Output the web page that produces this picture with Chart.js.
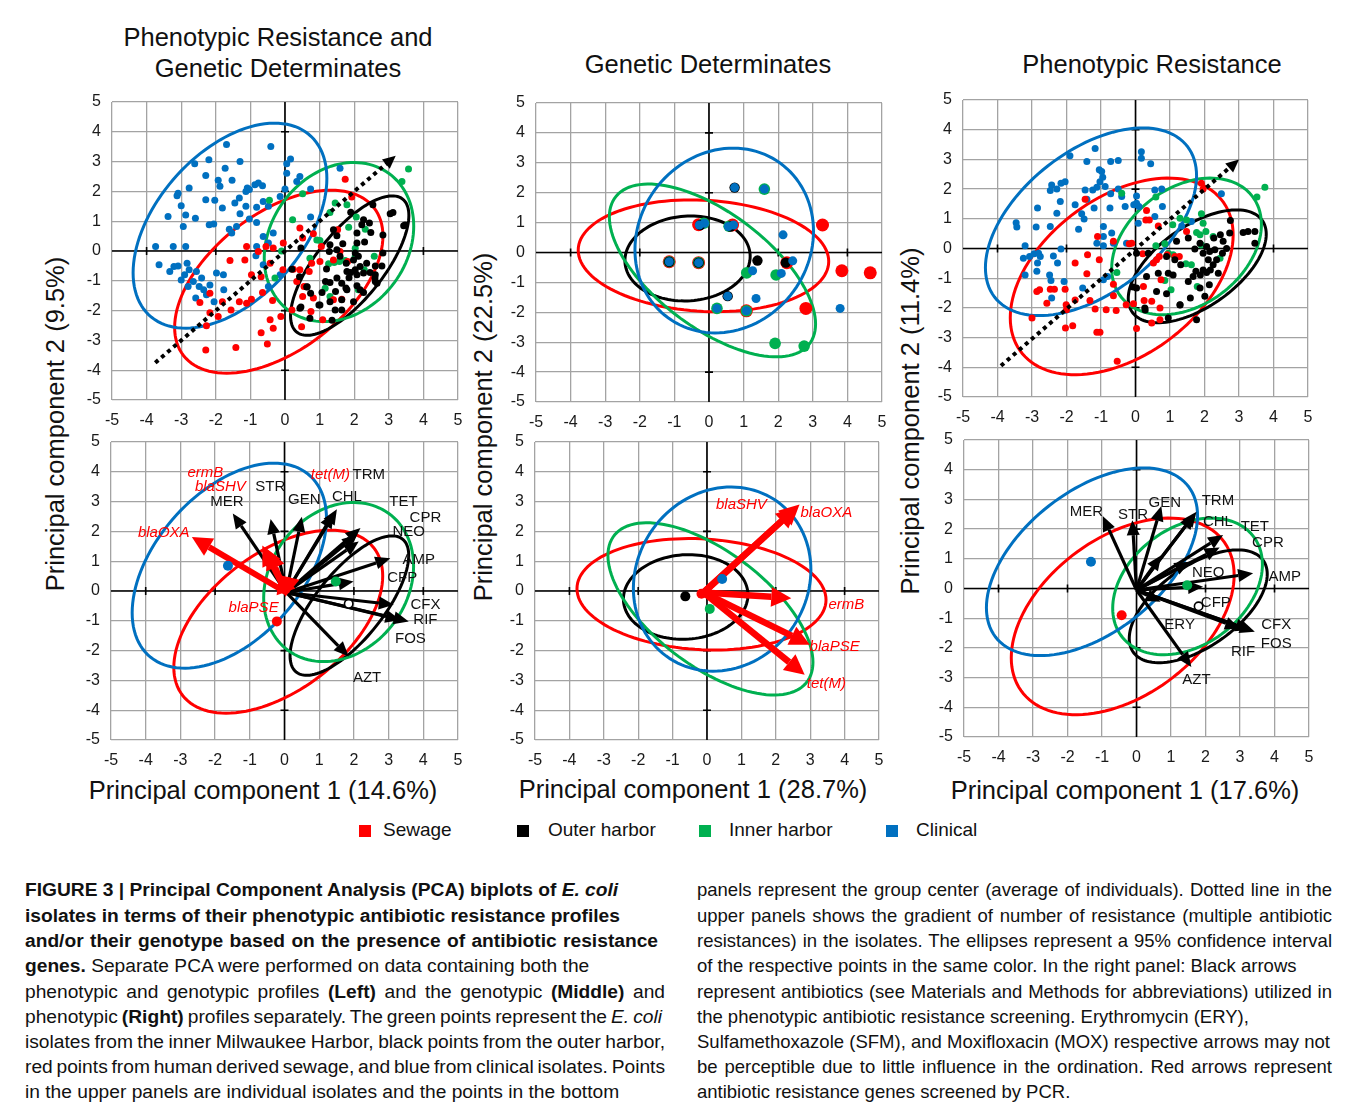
<!DOCTYPE html>
<html>
<head>
<meta charset="utf-8">
<script src="https://cdn.jsdelivr.net/npm/chart.js@4.4.1/dist/chart.umd.min.js"></script>
<style>
body { margin: 0; background: #fff; font-family: "Liberation Sans", Arial, sans-serif; }
#fig { position: relative; width: 1358px; height: 1109px; overflow: hidden; }
canvas { position: absolute; }
.t { position: absolute; color: #111; white-space: nowrap; }
.ttl { font-size: 25.5px; text-align: center; width: 400px; line-height: 31px; }
.ax { font-size: 25.5px; }
.rot { transform: translate(-50%, -50%) rotate(-90deg); }
.hc { transform: translate(-50%, -50%); }
.lg { font-size: 19px; top: 819px; }
.sq { position: absolute; width: 12px; height: 12px; top: 825px; }
.cl { position: absolute; font-size: 19.2px; line-height: 25px; white-space: nowrap; color: #111; }
.cr { font-size: 18.5px; }
.j { text-align: justify; text-align-last: justify; word-spacing: -3px; }
</style>
</head>
<body>
<div id="fig">
  <div class="t ttl" style="left:78px;top:22px">Phenotypic Resistance and<br>Genetic Determinates</div>
  <div class="t ttl" style="left:508px;top:49px">Genetic Determinates</div>
  <div class="t ttl" style="left:952px;top:49px">Phenotypic Resistance</div>

  <div class="t ax rot" style="left:55px;top:424px">Principal component 2 (9.5%)</div>
  <div class="t ax rot" style="left:483px;top:427px">Principal component 2 (22.5%)</div>
  <div class="t ax rot" style="left:910px;top:421px">Principal component 2 (11.4%)</div>
  <div class="t ax hc" style="left:263px;top:790px">Principal component 1 (14.6%)</div>
  <div class="t ax hc" style="left:693px;top:789px">Principal component 1 (28.7%)</div>
  <div class="t ax hc" style="left:1125px;top:790px">Principal component 1 (17.6%)</div>

  <div class="sq" style="left:359px;background:#ff0000"></div><div class="t lg" style="left:383px">Sewage</div>
  <div class="sq" style="left:517px;background:#000"></div><div class="t lg" style="left:548px">Outer harbor</div>
  <div class="sq" style="left:699px;background:#00b050"></div><div class="t lg" style="left:729px">Inner harbor</div>
  <div class="sq" style="left:886px;background:#0070c0"></div><div class="t lg" style="left:916px">Clinical</div>

  <div class="cl" style="left:25px;top:877px"><b>FIGURE 3 | Principal Component Analysis (PCA) biplots of <i>E. coli</i></b></div>
  <div class="cl" style="left:25px;top:903px"><b>isolates in terms of their phenotypic antibiotic resistance profiles</b></div>
  <div class="cl j" style="left:25px;top:928px;width:633px"><b>and/or their genotype based on the presence of antibiotic resistance</b></div>
  <div class="cl" style="left:25px;top:953px"><b>genes.</b> Separate PCA were performed on data containing both the</div>
  <div class="cl j" style="left:25px;top:979px;width:640px">phenotypic and genotypic profiles <b>(Left)</b> and the genotypic <b>(Middle)</b> and</div>
  <div class="cl j" style="left:25px;top:1004px;width:637px">phenotypic <b>(Right)</b> profiles separately. The green points represent the <i>E. coli</i></div>
  <div class="cl j" style="left:25px;top:1029px;width:640px">isolates from the inner Milwaukee Harbor, black points from the outer harbor,</div>
  <div class="cl j" style="left:25px;top:1054px;width:640px">red points from human derived sewage, and blue from clinical isolates. Points</div>
  <div class="cl" style="left:25px;top:1079px">in the upper panels are individual isolates and the points in the bottom</div>

  <div class="cl cr j" style="left:697px;top:877px;width:635px">panels represent the group center (average of individuals). Dotted line in the</div>
  <div class="cl cr j" style="left:697px;top:903px;width:635px">upper panels shows the gradient of number of resistance (multiple antibiotic</div>
  <div class="cl cr j" style="left:697px;top:928px;width:635px">resistances) in the isolates. The ellipses represent a 95% confidence interval</div>
  <div class="cl cr" style="left:697px;top:953px">of the respective points in the same color. In the right panel: Black arrows</div>
  <div class="cl cr j" style="left:697px;top:979px;width:635px">represent antibiotics (see Materials and Methods for abbreviations) utilized in</div>
  <div class="cl cr" style="left:697px;top:1004px">the phenotypic antibiotic resistance screening. Erythromycin (ERY),</div>
  <div class="cl cr j" style="left:697px;top:1029px;width:633px">Sulfamethoxazole (SFM), and Moxifloxacin (MOX) respective arrows may not</div>
  <div class="cl cr j" style="left:697px;top:1054px;width:635px">be perceptible due to little influence in the ordination. Red arrows represent</div>
  <div class="cl cr" style="left:697px;top:1079px">antibiotic resistance genes screened by PCR.</div>
</div>
<script>
// groups: Sewage, Outer harbor, Inner harbor, Clinical
const groupNames = ["Sewage", "Outer harbor", "Inner harbor", "Clinical"];
const groupColors = ["#ff0000", "#000000", "#00b050", "#0070c0"];
const axisTicks = [-5, -4, -3, -2, -1, 0, 1, 2, 3, 4, 5];

// ellipses per group: [centre x, centre y, half width, half height, correlation]
const leftEllipses = [[-0.18, -1.03, 3.01, 3.07, 0.5], [1.87, -0.49, 1.71, 2.34, 0.72], [1.56, 0.3, 2.16, 2.67, 0.2], [-1.59, 0.85, 2.8, 3.44, 0.46]];
const midEllipses = [[-0.16, -0.11, 3.62, 1.87, -0.1], [-0.62, -0.2, 1.81, 1.42, 0.05], [0.1, -0.6, 2.98, 2.89, -0.62], [0.44, 0.4, 2.58, 3.09, 0.1]];
const rightEllipses = [[-0.4, -0.94, 3.23, 3.31, 0.42], [1.79, -0.6, 2.0, 1.9, 0.57], [1.48, 0.07, 2.17, 2.3, 0.32], [-1.29, 0.9, 3.06, 3.16, 0.49]];

// resistance gradient (dotted arrow), upper panels
const leftGradient = [[-3.75, -3.75], [3.2, 3.2]];
const rightGradient = [[-3.9, -3.95], [3.0, 3.0]];

// upper left: isolates
const tlRed = [[1.74,2.41],[1.93,1.81],[0.43,0.77],[0.82,0.58],[0.51,0.44],[-1.11,0.15],[-1.59,-0.32],[-1.16,-0.3],[-0.77,-0.02],[-0.55,0.15],[-0.34,0.1],[-0.05,0.27],[-0.43,-0.41],[-0.06,-0.63],[-0.69,-0.86],[-0.97,-0.8],[0.24,-0.61],[0.43,-0.63],[0.7,-0.69],[0.34,-1.02],[0.55,-1.19],[0.77,-0.41],[1.01,-0.35],[1.4,-0.3],[1.81,-0.35],[1.59,-0.02],[1.05,0.15],[1.52,0.71],[0.51,-1.53],[0.2,-1.98],[0.75,-2.03],[0.48,-2.54],[1.09,-2.31],[1.4,-1.64],[1.64,-1.62],[-0.65,-1.39],[-0.36,-1.66],[-0.97,-1.62],[-1.11,-1.75],[-1.32,-1.7],[-1.56,-1.98],[-1.81,-1.7],[-2.17,-1.42],[-2.46,-1.73],[-2.17,-2.07],[-1.93,-2.2],[-2.27,-2.51],[-0.43,-2.31],[-0.34,-2.59],[-0.12,-2.2],[-0.69,-2.74],[-0.51,-3.12],[-1.42,-3.24],[-2.29,-3.32],[0.82,-1.58]];
const tlBlack = [[2.54,1.55],[3.04,1.25],[3.12,1.29],[3.43,0.85],[3.47,0.87],[2.27,1.05],[2.44,0.94],[2.22,0.88],[2.08,0.6],[2.48,0.62],[1.4,0.71],[1.5,0.51],[1.3,0.21],[1.67,0.24],[1.5,0.04],[2.08,0.27],[2.03,-0.07],[2.12,-0.18],[1.98,-0.3],[2.83,0.54],[2.83,-0.07],[2.8,-0.5],[2.61,-0.5],[1.28,-0.02],[1.59,-0.18],[1.77,-0.41],[2.36,-0.41],[2.17,-0.52],[2.03,-0.63],[1.9,-0.72],[1.79,-0.69],[2.08,-0.8],[2.27,-0.74],[2.46,-0.72],[2.61,-0.8],[2.61,-1.02],[1.5,-0.91],[1.3,-1.06],[1.17,-1.02],[1.64,-1.08],[1.07,-1.39],[1.46,-1.36],[1.79,-1.3],[2.17,-1.3],[2.27,-1.39],[0.63,-1.21],[0.2,-0.61],[0.42,-0.86],[0.74,-1.42],[1.3,-1.7],[1.64,-1.64],[1.98,-1.7],[0.43,-1.92],[0.72,-2.26],[1.01,-1.81],[1.45,-1.98],[1.64,-1.98],[0.46,0.1],[0.64,-1.2],[0.46,-1.88],[0.98,-1.81],[1.36,-2.32],[1.76,-1.24],[2.08,-1.17],[2.6,-0.91],[2.66,-1.08],[1.9,1.3],[2.3,0.3],[1.2,-0.6],[1.85,-0.9]];
const tlGreen = [[3.57,2.75],[3.38,2.33],[-0.45,1.7],[0.51,1.92],[0.22,1.05],[1.45,1.61],[1.79,1.55],[1.3,1.29],[2.06,1.14],[1.84,0.8],[2.32,0.73],[0.92,0.37],[1.01,0.35],[2.03,0.09],[0.72,-0.24],[1.26,-0.43],[1.42,-0.39],[1.57,-0.35],[1.74,-0.32],[2.03,-0.18],[2.58,-0.18],[2.29,-0.63],[-0.29,-0.91],[1.16,-1.25],[1.3,-1.53],[2.12,-1.3],[-0.1,0.0]];
const tlBlue = [[-1.69,3.57],[-0.41,3.51],[-2.61,2.93],[-2.2,3.06],[-1.3,3.0],[-1.73,2.78],[0.05,2.93],[0.16,3.09],[-2.29,2.53],[-1.93,2.37],[-1.53,2.37],[-2.77,2.11],[-3.09,1.94],[-3.12,1.85],[-1.88,2.17],[-1.09,2.11],[-0.87,2.22],[-0.77,2.28],[-0.65,2.19],[-1.13,2.0],[-1.03,2.06],[0.05,2.61],[0.43,2.5],[0.34,2.33],[0.74,2.08],[0,2.08],[1.59,2.78],[-2.29,1.72],[-2.03,1.7],[-1.32,1.78],[-3.0,1.52],[-1.81,1.44],[-1.45,1.61],[-1.13,1.5],[-0.82,1.47],[-0.63,1.66],[-0.48,1.5],[-2.87,1.21],[-3.38,1.16],[-2.59,1.1],[-1.3,1.25],[-1.03,1.07],[-0.82,0.96],[0.74,1.14],[-0.14,1.83],[-2.94,0.82],[-2.19,0.88],[-2.06,0.91],[-1.61,0.73],[-1.4,0.82],[-1.54,0.6],[-0.63,0.49],[-0.34,0.6],[-0.48,0.27],[-3.74,0.15],[-3.23,0.15],[-2.87,0.15],[-0.82,0.15],[-0.84,-0.16],[-3.64,-0.46],[-3.33,-0.69],[-3.21,-0.52],[-3.09,-0.5],[-2.83,-0.41],[-2.77,-0.63],[-2.9,-0.8],[-3.0,-0.97],[-2.56,-0.69],[-2.41,-0.91],[-2.65,-1.02],[-2.8,-1.19],[-2.48,-1.19],[-2.35,-1.3],[-2.17,-1.14],[-1.98,-0.74],[-1.78,-0.8],[-2.27,-1.47],[-2.58,-1.58],[-2.05,-1.7],[-1.77,-1.3],[-0.63,-0.46],[-0.48,-1.19],[-0.14,-0.8]];

// upper middle: isolates (genotype only, many overlap)
const tmRed = [[-0.3,0.93],[0.68,0.92],[-1.15,-0.31],[-0.3,-0.34],[1.08,-1.95],[2.25,-0.34],[3.28,0.92],[3.84,-0.61],[4.66,-0.68],[2.8,-1.87]];
const tmBlack = [[0.74,2.17],[0.54,-1.46],[1.4,-0.27],[2.22,-0.34],[-1.15,-0.31],[-0.3,-0.34],[0.62,0.87],[-0.25,0.92]];
const tmGreen = [[-0.15,0.98],[0.58,0.88],[-1.15,-0.31],[-0.3,-0.34],[0.23,-1.87],[1.08,-1.95],[1.6,2.12],[1.09,-0.68],[1.94,-0.75],[1.91,-3.04],[2.75,-3.13]];
const tmBlue = [[-0.28,0.92],[-0.13,0.98],[0.56,0.87],[0.71,0.92],[-1.15,-0.31],[-0.3,-0.34],[0.23,-1.87],[1.08,-1.95],[0.74,2.17],[1.6,2.12],[2.14,0.59],[2.42,-0.28],[1.26,-0.61],[2.09,-0.7],[0.54,-1.46],[1.36,-1.54],[3.79,-1.87]];

// upper right: isolates (phenotype only)
const trRed = [[1.91,2.2],[1.96,2.0],[0.32,1.28],[0.3,0.96],[0.4,0.96],[-1.46,1.66],[0.66,0.76],[1.48,0.57],[-1.1,0.4],[-0.64,0.24],[-0.18,0.16],[-0.11,0.18],[-1.75,-0.49],[-1.39,-0.21],[-1.05,-0.38],[-1.41,-0.85],[0.21,-0.18],[0.52,-0.49],[0.61,-0.38],[0.69,-0.27],[0.92,-0.21],[1.27,-0.27],[1.14,-0.27],[-2.86,-1.45],[-2.78,-1.39],[-2.57,-1.84],[-2.47,-1.37],[-2.35,-1.37],[-2.04,-1.37],[-1.75,-1.73],[-2.01,-1.89],[-2.0,-2.06],[-1.32,-1.75],[-1.17,-2.04],[-0.85,-2.06],[-0.56,-2.09],[-0.64,-1.59],[-0.27,-1.89],[-0.06,-1.86],[0.25,-1.75],[0.47,-1.78],[0.71,-2.0],[0.23,-1.28],[0.47,-2.51],[0.71,-2.4],[-2.03,-2.68],[-1.82,-2.6],[-1.12,-2.82],[-1.03,-2.82],[0.03,-2.69],[-0.53,-3.8],[-3.0,-2.34],[-0.64,-1.2],[0.74,-1.05]];
const trBlack = [[2.75,0.94],[2.73,0.52],[2.46,0.46],[2.52,-0.16],[3.12,0.54],[3.26,0.57],[3.46,0.57],[3.46,0.18],[2.27,0.35],[2.06,0.07],[2.15,-0.1],[2.3,-0.04],[1.53,0.35],[1.19,0.24],[1.87,0.18],[1.72,-0.02],[1.96,-0.16],[2.11,-0.38],[2.35,-0.38],[2.25,-0.55],[2.4,-0.83],[2.17,-0.72],[2.06,-0.81],[1.96,-0.72],[1.88,-0.89],[1.75,-0.77],[1.67,-0.94],[1.53,-1.11],[1.31,-0.55],[1.14,-0.38],[0.9,-0.27],[1.09,-0.89],[0.95,-0.83],[0.66,-0.83],[0.37,-0.16],[0.03,-0.16],[0.32,-0.94],[0.61,-1.45],[0.9,-1.52],[0.03,-1.33],[0.27,-2.0],[1.29,-1.89],[1.59,-1.67],[2.01,-1.61],[1.87,-1.33],[2.14,-1.22],[1.77,-2.4],[0.95,-2.34],[2.64,0.0],[2.54,0.24],[-0.07,-1.3],[0.28,-2.07],[1.29,-1.9]];
const trGreen = [[3.75,2.06],[3.52,1.73],[0.59,1.73],[-0.4,1.86],[1.91,1.17],[1.29,1.02],[1.48,0.96],[1.96,0.85],[1.08,0.8],[1.77,0.54],[1.87,0.46],[2.04,0.57],[2.25,0.4],[0.59,0.09],[0.85,0.16],[1.91,0.12],[2.45,-0.33],[0.95,-0.16],[1.09,-0.21],[1.46,-0.51],[1.62,-0.55],[0.85,-1.08],[1.03,-1.39],[1.79,-1.28],[-0.54,-0.81]];
const trBlue = [[-1.17,3.37],[-1.9,3.12],[-1.41,2.93],[-1.05,2.65],[-0.72,2.93],[-0.5,2.96],[0.17,3.26],[0.17,3.04],[0.44,2.85],[-0.98,2.59],[-0.95,2.4],[-1.03,2.25],[-1.12,2.06],[-2.16,2.2],[-2.04,2.25],[-2.43,2.14],[-2.47,1.95],[-2.28,2.0],[-2.18,1.58],[-1.46,1.97],[-1.24,1.97],[-0.88,2.09],[-0.72,1.84],[-0.5,2.0],[-0.4,1.75],[-1.75,1.47],[-1.41,1.66],[-1.2,1.36],[-1.56,1.17],[-1.49,0.99],[-0.74,1.36],[-0.3,1.41],[-0.05,1.47],[0.03,1.77],[0.1,1.41],[0.03,1.52],[0.56,1.08],[0.56,1.97],[0.76,2.0],[0.78,1.41],[2.49,1.84],[-2.84,1.36],[-2.28,1.19],[-1.65,0.65],[-0.93,0.74],[-0.69,0.52],[0.08,0.85],[-3.46,0.87],[-3.44,0.72],[-2.88,0.72],[-2.47,0.74],[-3.2,0.09],[-3.25,-0.33],[-3.07,-0.27],[-2.94,-0.18],[-2.81,-0.16],[-2.76,-0.27],[-2.38,-0.25],[-2.26,-0.49],[-2.16,-0.02],[-2.84,-0.49],[-2.86,-0.77],[-3.2,-0.89],[-2.49,-0.89],[-2.45,-1.08],[-2.07,-1.11],[-2.43,-1.67],[-1.53,-1.33],[-1.12,0.18],[-0.93,0.09],[-0.93,0.4],[-0.64,0.18],[-0.26,0.18],[-0.81,-0.94],[-0.93,-1.05],[1.62,0.91],[1.34,0.76]];

// lower panels: group centres [red, black, green, blue]
const blCentres = [[-0.22,-1.02],[1.85,-0.43],[1.48,0.32],[-1.63,0.85]];
const bmCentres = [[-0.16,-0.09],[-0.63,-0.18],[0.08,-0.6],[0.44,0.4]];
const brCentres = [[-0.43,-0.9],[1.8,-0.6],[1.47,0.11],[-1.32,0.9]];

// lower panels: loadings (arrow tips) and origins
const blOrigin = [0.05, -0.05];
const blAntibiotics = [[-1.49,2.6],[-0.4,2.42],[0.5,2.49],[1.42,2.62],[1.51,2.74],[2.19,2.11],[2.09,1.89],[2.14,1.66],[3.05,1.1],[1.99,0.32],[3.15,-0.46],[3.58,-1.02],[3.34,-0.97],[1.85,-2.2]];
const blGenes = [[-2.67,1.81],[-0.64,1.53],[-0.5,1.4],[-0.15,0.6],[0.02,-0.2]];
const bmOrigin = [-0.1, -0.05];
const bmGenes = [[2.69,2.9],[2.6,2.8],[2.45,-0.24],[2.99,-1.8],[2.84,-2.81]];
const brOrigin = [0, -0.05];
const brAntibiotics = [[-0.98,2.44],[-0.12,2.3],[0.72,2.78],[1.74,2.58],[1.68,2.5],[2.51,1.8],[2.41,1.38],[0.72,1.12],[1.54,0.9],[1.93,0.06],[3.38,0.51],[3.43,-1.46],[3.0,-1.35],[3.3,-1.4],[1.59,-2.64],[0.7,-0.45]];

// arrow labels [text, x, y]
const blAntibioticLabels = [["TRM",2.43,3.9],["STR",-0.41,3.51],["MER",-1.66,3.0],["GEN",0.57,3.06],["CHL",1.8,3.17],["TET",3.43,3.0],["CPR",4.06,2.45],["NEO",3.58,2.0],["AMP",3.87,1.05],["CFP",3.39,0.43],["CFX",4.06,-0.46],["RIF",4.06,-0.97],["FOS",3.63,-1.62],["AZT",2.38,-2.93]];
const blGeneLabels = [["ermB",-2.28,3.96],["blaSHV",-1.85,3.5],["tet(M)",1.32,3.9],["blaOXA",-3.48,1.94],["blaPSE",-0.89,-0.58]];
const bmGeneLabels = [["blaSHV",1.0,2.9],["blaOXA",3.47,2.62],["ermB",4.05,-0.46],["blaPSE",3.71,-1.89],["tet(M)",3.47,-3.1]];
const brAntibioticLabels = [["MER",-1.45,2.58],["STR",-0.1,2.47],["GEN",0.82,2.9],["TRM",2.36,2.96],["CHL",2.36,2.25],["TET",3.43,2.08],["CPR",3.81,1.55],["NEO",2.08,0.53],["AMP",4.3,0.4],["CFP",2.3,-0.48],["ERY",1.25,-1.24],["CFX",4.05,-1.24],["FOS",4.05,-1.85],["RIF",3.09,-2.13],["AZT",1.74,-3.09]];

// ---------- drawing helpers ----------
const YW = 45, XH = 35, PT = 24, PR = 18;
const FONT = '"Liberation Sans", Arial, sans-serif';

function arrowHead(ctx, x0, y0, x1, y1, lw, hl, hw, col) {
    const ang = Math.atan2(y1 - y0, x1 - x0);
    const bx = x1 - hl * Math.cos(ang), by = y1 - hl * Math.sin(ang);
    ctx.strokeStyle = col;
    ctx.fillStyle = col;
    ctx.lineWidth = lw;
    ctx.beginPath();
    ctx.moveTo(x0, y0);
    ctx.lineTo(bx, by);
    ctx.stroke();
    ctx.beginPath();
    ctx.moveTo(x1, y1);
    ctx.lineTo(bx + hw * Math.sin(ang), by - hw * Math.cos(ang));
    ctx.lineTo(bx - hw * Math.sin(ang), by + hw * Math.cos(ang));
    ctx.closePath();
    ctx.fill();
}

const extras = {
    id: "extras",
    beforeDatasetsDraw(chart, args, opts) {
        const ctx = chart.ctx, a = chart.chartArea;
        const px = v => chart.scales.x.getPixelForValue(v);
        const py = v => chart.scales.y.getPixelForValue(v);
        ctx.save();
        // axes through zero
        ctx.strokeStyle = "#000";
        ctx.lineWidth = 1.6;
        ctx.beginPath();
        ctx.moveTo(a.left, py(0)); ctx.lineTo(a.right, py(0));
        ctx.moveTo(px(0), a.top); ctx.lineTo(px(0), a.bottom);
        [-4, -2, 2, 4].forEach(m => {
            ctx.moveTo(px(m), py(0) - 4); ctx.lineTo(px(m), py(0) + 4);
            ctx.moveTo(px(0) - 4, py(m)); ctx.lineTo(px(0) + 4, py(m));
        });
        ctx.stroke();

        // 95% ellipses
        ctx.lineWidth = 3;
        (opts.ellipses || []).forEach((e, g) => {
            const [cx, cy, sx, sy, r] = e;
            const q = Math.sqrt(1 - r * r);
            ctx.strokeStyle = groupColors[g];
            ctx.beginPath();
            for (let i = 0; i <= 120; i++) {
                const t = i / 120 * Math.PI * 2;
                const x = px(cx + sx * Math.cos(t));
                const y = py(cy + sy * (r * Math.cos(t) + q * Math.sin(t)));
                if (i === 0) ctx.moveTo(x, y); else ctx.lineTo(x, y);
            }
            ctx.closePath();
            ctx.stroke();
        });

        // loadings
        if (opts.origin) {
            const ox = px(opts.origin[0]), oy = py(opts.origin[1]);
            (opts.black || []).forEach(p => arrowHead(ctx, ox, oy, px(p[0]), py(p[1]), 3.2, 15, 6.5, "#000"));
            (opts.red || []).forEach(p => arrowHead(ctx, ox, oy, px(p[0]), py(p[1]), opts.redWidth, 20, 10, "#ff0000"));
        }
        ctx.textAlign = "center";
        ctx.textBaseline = "middle";
        ctx.fillStyle = "#111";
        ctx.font = "15px " + FONT;
        (opts.blackLabels || []).forEach(l => ctx.fillText(l[0], px(l[1]), py(l[2])));
        ctx.fillStyle = "#ff0000";
        ctx.font = "italic 15px " + FONT;
        (opts.redLabels || []).forEach(l => ctx.fillText(l[0], px(l[1]), py(l[2])));
        ctx.restore();
    },
    afterDatasetsDraw(chart, args, opts) {
        if (!opts.gradient) return;
        const ctx = chart.ctx;
        const px = v => chart.scales.x.getPixelForValue(v);
        const py = v => chart.scales.y.getPixelForValue(v);
        const [s, e] = opts.gradient;
        const x0 = px(s[0]), y0 = py(s[1]), x1 = px(e[0]), y1 = py(e[1]);
        const ang = Math.atan2(y1 - y0, x1 - x0);
        ctx.save();
        ctx.setLineDash([4, 4]);
        ctx.strokeStyle = "#000";
        ctx.lineWidth = 4;
        ctx.beginPath();
        ctx.moveTo(x0, y0);
        ctx.lineTo(x1 - 12 * Math.cos(ang), y1 - 12 * Math.sin(ang));
        ctx.stroke();
        ctx.setLineDash([]);
        arrowHead(ctx, x1 - 13 * Math.cos(ang), y1 - 13 * Math.sin(ang), x1, y1, 0, 13, 6, "#000");
        ctx.restore();
    }
};

function pointSets(lists, radii) {
    // lists in group order: red, black, green, blue
    return lists.map((pts, g) => ({
        type: "scatter",
        label: groupNames[g],
        data: pts.map(p => ({ x: p[0], y: p[1] })),
        pointRadius: radii[g],
        pointBackgroundColor: groupColors[g],
        pointBorderWidth: 0,
        order: radii.order ? radii.order[g] : g
    }));
}

function centreSets(centres, openBlack) {
    return centres.map((p, g) => ({
        type: "scatter",
        label: groupNames[g],
        data: [{ x: p[0], y: p[1] }],
        pointRadius: g === 1 && openBlack ? 4.2 : 5,
        pointBackgroundColor: g === 1 && openBlack ? "#fff" : groupColors[g],
        pointBorderColor: "#000",
        pointBorderWidth: g === 1 && openBlack ? 1.6 : 0
    }));
}

function axisOpts(isX) {
    return {
        type: "linear",
        min: -5,
        max: 5,
        afterBuildTicks: s => { s.ticks = axisTicks.map(v => ({ value: v })); },
        ticks: {
            color: "#1a1a1a",
            font: { size: 16, family: FONT },
            padding: 11,
            maxRotation: 0,
            autoSkip: false,
            callback: v => String(v)
        },
        grid: { color: "#a3a3a3", lineWidth: 1.3, drawTicks: false },
        border: { display: false },
        afterFit: s => { if (isX) s.height = XH; else s.width = YW; }
    };
}

function makePanel(plot, datasets, ex) {
    const c = document.createElement("canvas");
    const w = plot[2] - plot[0] + YW + PR, h = plot[3] - plot[1] + PT + XH;
    c.width = w; c.height = h;
    c.style.left = (plot[0] - YW) + "px";
    c.style.top = (plot[1] - PT) + "px";
    c.style.width = w + "px"; c.style.height = h + "px";
    document.getElementById("fig").appendChild(c);
    new Chart(c.getContext("2d"), {
        type: "scatter",
        data: { datasets },
        options: {
            responsive: false,
            animation: false,
            events: [],
            layout: { padding: { top: PT, right: PR, left: 0, bottom: 0 } },
            plugins: { legend: { display: false }, tooltip: { enabled: false }, extras: ex },
            scales: { x: axisOpts(true), y: axisOpts(false) }
        },
        plugins: [extras]
    });
}

const smallDots = Object.assign([3.5, 3.5, 3.5, 3.5], { order: [2, 1, 3, 4] });
const overlapDots = Object.assign([6.5, 5.2, 5.8, 4.5], { order: [4, 2, 3, 1] });

makePanel([112, 102, 458, 400], pointSets([tlRed, tlBlack, tlGreen, tlBlue], smallDots),
    { ellipses: leftEllipses, gradient: leftGradient });
makePanel([536, 103, 882, 402], pointSets([tmRed, tmBlack, tmGreen, tmBlue], overlapDots),
    { ellipses: midEllipses });
makePanel([963, 100, 1308, 397], pointSets([trRed, trBlack, trGreen, trBlue], smallDots),
    { ellipses: rightEllipses, gradient: rightGradient });

makePanel([111, 442, 458, 740], centreSets(blCentres, true),
    { ellipses: leftEllipses, origin: blOrigin, black: blAntibiotics, red: blGenes, redWidth: 6,
      blackLabels: blAntibioticLabels, redLabels: blGeneLabels });
makePanel([535, 442, 879, 740], centreSets(bmCentres, false),
    { ellipses: midEllipses, origin: bmOrigin, red: bmGenes, redWidth: 6.5, redLabels: bmGeneLabels });
makePanel([964, 440, 1309, 737], centreSets(brCentres, true),
    { ellipses: rightEllipses, origin: brOrigin, black: brAntibiotics, blackLabels: brAntibioticLabels });
</script>
</body>
</html>
